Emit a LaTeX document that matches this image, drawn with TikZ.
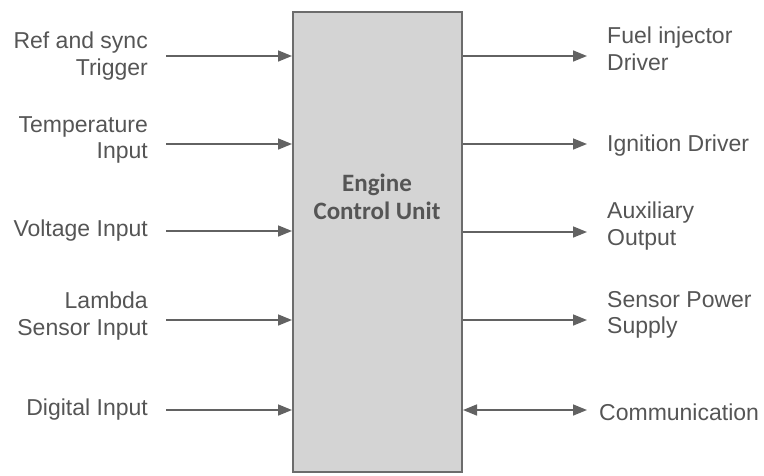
\documentclass[tikz,border=0pt]{standalone}
\usepackage{fontspec}
\setmainfont{Liberation Sans}
\newfontfamily\titlefont{Carlito}
\usetikzlibrary{arrows.meta,positioning}
\definecolor{Ink}{HTML}{555555}
\definecolor{Wire}{HTML}{626262}
\definecolor{Panel}{HTML}{D4D4D4}
\definecolor{Edge}{HTML}{6C6C6C}
\tikzset{
  sig/.style={Wire,line width=1.6pt,-{Triangle[length=14pt,width=11pt]}},
  lbl/.style={text=Ink,font=\fontsize{23}{26.5}\selectfont,inner sep=0pt},
}
\begin{document}
\begin{tikzpicture}[x=1pt,y=-1pt]
\useasboundingbox (0,0) rectangle (764,475);
\node[draw=Edge,line width=2pt,fill=Panel,minimum width=169pt,minimum height=460pt,inner sep=0pt] (ecu) at (377.5,242) {};
\node[text=Ink,font=\titlefont\bfseries\fontsize{25}{28}\selectfont,align=center] (title) at (377,197) {Engine\\Control Unit};
% inputs
\foreach \y/\dy/\txt [count=\i] in {56/0/{Ref and sync\\Trigger},144/4/{Temperature\\Input},231/0/{Voltage Input},320/4/{Lambda\\Sensor Input},410/0/{Digital Input}}{
  \coordinate (in\i) at (166,\y);
  \draw[sig] (in\i) -- (in\i -| ecu.west);
  \node[lbl,align=right,anchor=east] (inlbl\i) at ([xshift=-18pt,yshift=\dy pt]in\i) {\txt};
}
% outputs
\foreach \y/\dy/\txt [count=\i] in {56/7/{Fuel injector\\Driver},144/-2/{Ignition Driver},232/6/{Auxiliary\\Output},320/5/{Sensor Power\\Supply}}{
  \coordinate (out\i) at (587,\y);
  \draw[sig] (out\i -| ecu.east) -- (out\i);
  \node[lbl,align=left,anchor=west] (outlbl\i) at ([xshift=20pt,yshift=\dy pt]out\i) {\txt};
}
\coordinate (comm) at (587,410);
\draw[sig,{Triangle[length=14pt,width=11pt]}-{Triangle[length=14pt,width=11pt]}] (comm -| ecu.east) -- (comm);
\node[lbl,anchor=west] (commlbl) at ([xshift=12pt,yshift=-2pt]comm) {Communication};
\end{tikzpicture}
\end{document}
